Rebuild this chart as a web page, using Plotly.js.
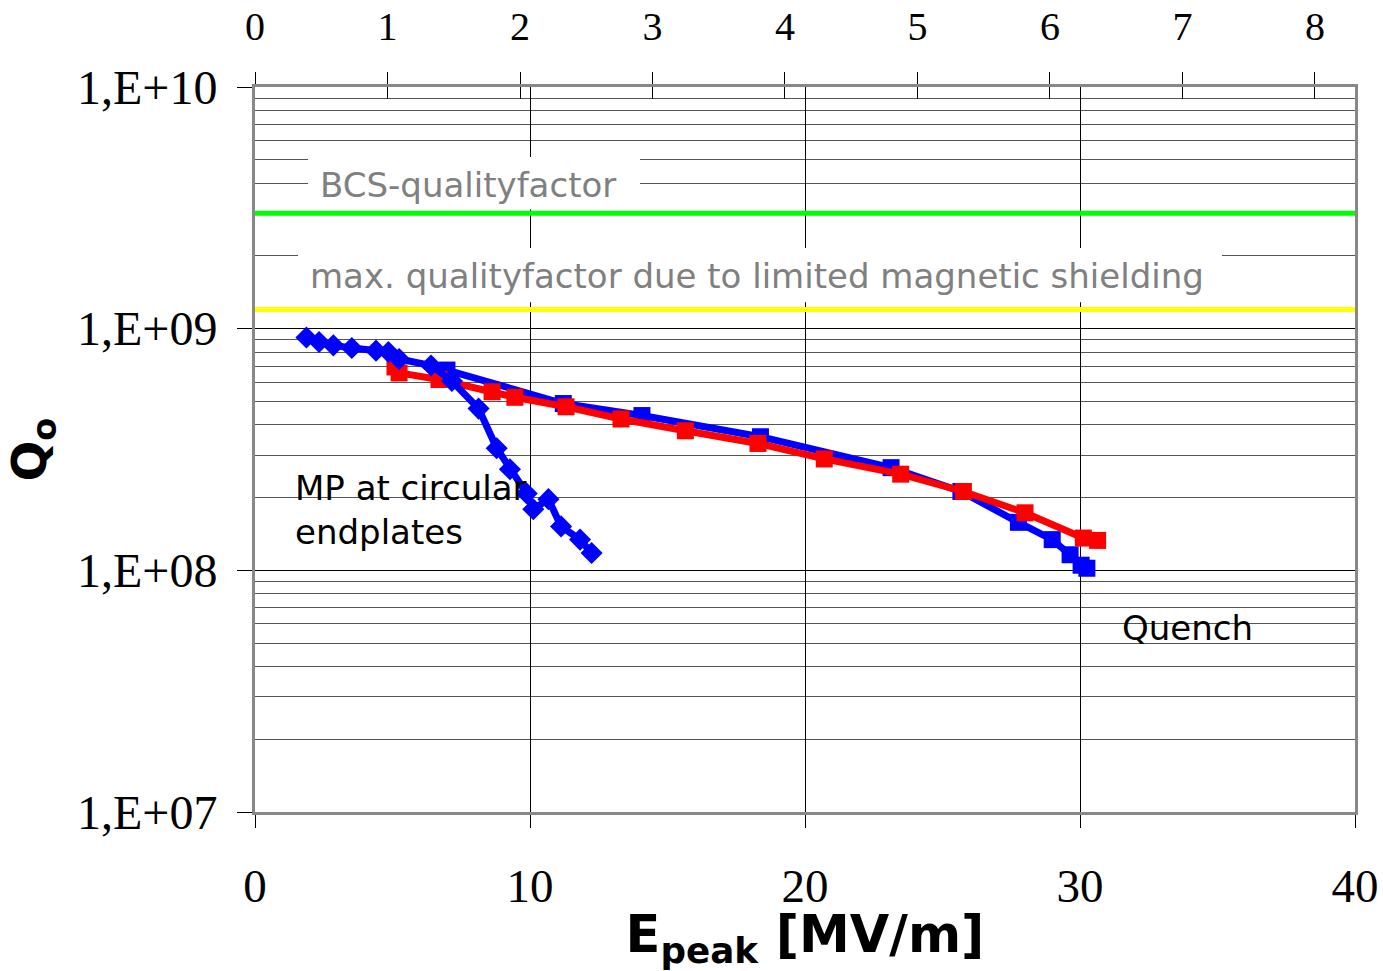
<!DOCTYPE html>
<html>
<head>
<meta charset="utf-8">
<script src="https://cdn.plot.ly/plotly-3.0.1.min.js"></script>
<style>html,body{margin:0;padding:0;background:#fff;}#chart{width:1383px;height:971px;}</style>
</head>
<body>
<div id="chart"></div>
<script>
// Multipacting run (blue diamonds)
const E_MP = [1.87, 2.33, 2.85, 3.52, 4.40, 4.85, 5.24, 6.40, 7.16, 8.13, 8.79, 9.27, 9.88, 10.12, 10.67, 11.13, 11.82, 12.24];
const Q_MP = [9.19e8, 8.81e8, 8.53e8, 8.32e8, 8.11e8, 8.01e8, 7.49e8, 7.04e8, 6.07e8, 4.67e8, 3.20e8, 2.62e8, 2.08e8, 1.79e8, 1.97e8, 1.52e8, 1.34e8, 1.18e8];
// Blue squares
const E_BLUE = [6.98, 11.21, 14.07, 18.38, 23.13, 25.67, 27.76, 28.99, 29.64, 30.04, 30.25];
const Q_BLUE = [6.74e8, 4.90e8, 4.37e8, 3.57e8, 2.66e8, 2.12e8, 1.58e8, 1.34e8, 1.16e8, 1.05e8, 1.02e8];
// Red squares
const E_RED = [5.09, 5.24, 6.69, 8.62, 9.45, 11.31, 13.31, 15.65, 18.29, 20.70, 23.48, 25.76, 28.00, 30.12, 30.64];
const Q_RED = [6.94e8, 6.56e8, 6.16e8, 5.48e8, 5.20e8, 4.75e8, 4.23e8, 3.78e8, 3.35e8, 2.89e8, 2.50e8, 2.12e8, 1.73e8, 1.36e8, 1.33e8];
// Reference levels
const LEVEL_X = [0, 40];
const BCS_Q = 3.0e9;
const SHIELD_Q = 1.2e9;
// Ticks
const Y_TICKS = [1e7, 1e8, 1e9, 1e10];
const Y_TICKTEXT = ['1,E+07', '1,E+08', '1,E+09', '1,E+10'];
const X_TICKS = [0, 10, 20, 30, 40];
const X_TOP_TICKS = [0, 1, 2, 3, 4, 5, 6, 7, 8];

const minorVals = [];
for (let d = 7; d < 10; d++) { for (let m = 2; m <= 9; m++) minorVals.push(m * Math.pow(10, d)); }

const serif = 'Liberation Serif, Times New Roman, serif';
const sans = 'DejaVu Sans, Verdana, sans-serif';

const traces = [
  {x: LEVEL_X, y: [BCS_Q, BCS_Q], mode: 'lines', line: {color: '#00FF00', width: 5}, hoverinfo: 'skip', cliponaxis: false},
  {x: LEVEL_X, y: [SHIELD_Q, SHIELD_Q], mode: 'lines', line: {color: '#FFFF00', width: 5}, hoverinfo: 'skip', cliponaxis: false},
  {x: E_BLUE, y: Q_BLUE, mode: 'lines+markers', line: {color: '#0000FF', width: 7}, marker: {symbol: 'square', size: 17, color: '#0000FF'}},
  {x: E_RED, y: Q_RED, mode: 'lines+markers', line: {color: '#FF0000', width: 7}, marker: {symbol: 'square', size: 17, color: '#FF0000'}},
  {x: E_MP, y: Q_MP, mode: 'lines+markers', line: {color: '#0000FF', width: 7}, marker: {symbol: 'diamond', size: 17, color: '#0000FF'}},
  {x: [null], y: [null], xaxis: 'x2', showlegend: false, hoverinfo: 'skip'},
  {x: [null], y: [null], xaxis: 'x3', showlegend: false, hoverinfo: 'skip'},
  {x: [null], y: [null], xaxis: 'x4', showlegend: false, hoverinfo: 'skip'}
];

const layout = {
  width: 1383, height: 971,
  margin: {l: 255, r: 28, t: 87, b: 159},
  paper_bgcolor: '#fff', plot_bgcolor: '#fff',
  showlegend: false,
  xaxis: {
    range: [0, 40], tickmode: 'array', tickvals: X_TICKS,
    showgrid: true, gridcolor: '#000', gridwidth: 1, zeroline: false,
    showline: true, linecolor: '#888', linewidth: 3,
    ticks: 'outside', ticklen: 13, tickcolor: '#000', tickwidth: 1,
    ticklabelstandoff: 18,
    tickfont: {family: serif, size: 47, color: '#000'},
    title: {text: 'E<sub>peak</sub> [MV/m]', font: {family: sans, size: 51, color: '#000', weight: 'bold'}, standoff: 14}
  },
  xaxis2: {
    overlaying: 'x', side: 'top', anchor: 'y', range: [0, 8.302],
    tickmode: 'array', tickvals: X_TOP_TICKS, showgrid: false, zeroline: false,
    showline: true, linecolor: '#888', linewidth: 3,
    ticks: 'outside', ticklen: 12, tickcolor: '#000', tickwidth: 1,
    ticklabelstandoff: 16,
    tickfont: {family: serif, size: 40, color: '#000'}
  },
  xaxis3: {
    overlaying: 'x', side: 'bottom', anchor: 'y', range: [0, 40],
    tickmode: 'array', tickvals: X_TICKS, showgrid: false, zeroline: false, showline: false,
    ticks: 'inside', ticklen: 12, tickcolor: '#000', tickwidth: 1, showticklabels: false
  },
  xaxis4: {
    overlaying: 'x', side: 'top', anchor: 'y', range: [0, 8.302],
    tickmode: 'array', tickvals: X_TOP_TICKS, showgrid: false, zeroline: false, showline: false,
    ticks: 'inside', ticklen: 12, tickcolor: '#000', tickwidth: 1, showticklabels: false
  },
  yaxis: {
    type: 'log', range: [7, 10], tickmode: 'array', tickvals: Y_TICKS, ticktext: Y_TICKTEXT,
    showgrid: true, gridcolor: '#000', gridwidth: 1, zeroline: false,
    showline: true, mirror: true, linecolor: '#888', linewidth: 3,
    ticks: 'outside', ticklen: 15, tickcolor: '#000', tickwidth: 1,
    ticklabelstandoff: 10,
    tickfont: {family: serif, size: 48, color: '#000'},
    minor: {tickmode: 'array', tickvals: minorVals, showgrid: true, gridcolor: '#555', gridwidth: 1, ticks: ''},
    title: {text: 'Q<sub>o</sub>', font: {family: sans, size: 48, color: '#000', weight: 'bold'}, standoff: 16}
  },
  shapes: [
    {type: 'rect', xref: 'paper', yref: 'paper', x0: 0.0482, x1: 0.35, y0: 0.8310, y1: 0.9034, fillcolor: '#fff', line: {width: 0}, layer: 'above'},
    {type: 'rect', xref: 'paper', yref: 'paper', x0: 0.0391, x1: 0.8791, y0: 0.7030, y1: 0.7779, fillcolor: '#fff', line: {width: 0}, layer: 'above'}
  ],
  annotations: [
    {xref: 'paper', yref: 'paper', x: 0.0573, y: 0.8648, xanchor: 'left', yanchor: 'middle', showarrow: false,
     text: 'BCS-qualityfactor', font: {family: sans, size: 34, color: '#808080'}},
    {xref: 'paper', yref: 'paper', x: 0.0482, y: 0.7393, xanchor: 'left', yanchor: 'middle', showarrow: false,
     text: 'max. qualityfactor due to limited magnetic shielding', font: {family: sans, size: 34, color: '#808080'}},
    {xref: 'paper', yref: 'paper', x: 0.0345, y: 0.4166, xanchor: 'left', yanchor: 'middle', align: 'left', showarrow: false,
     text: 'MP at circular<br>endplates', font: {family: sans, size: 34, color: '#000'}},
    {xref: 'paper', yref: 'paper', x: 0.7864, y: 0.2538, xanchor: 'left', yanchor: 'middle', showarrow: false,
     text: 'Quench', font: {family: sans, size: 34, color: '#000'}}
  ]
};

Plotly.newPlot('chart', traces, layout, {staticPlot: true, displayModeBar: false});
</script>
</body>
</html>
